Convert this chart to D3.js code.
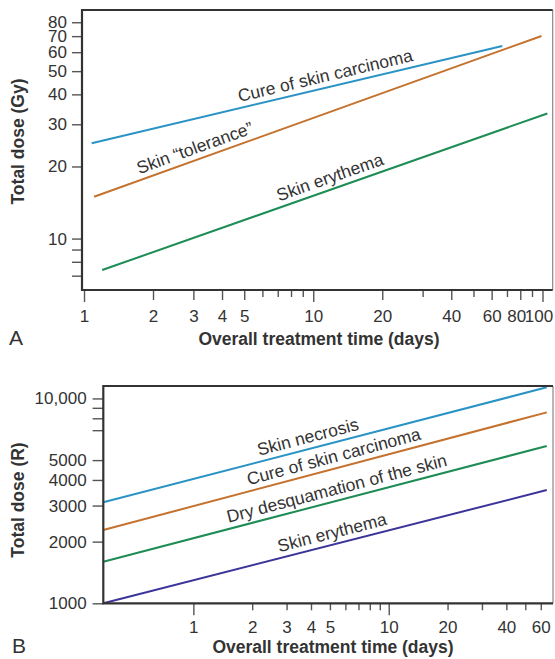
<!DOCTYPE html>
<html><head><meta charset="utf-8">
<script src="https://cdn.jsdelivr.net/npm/d3@7"></script>
<style>
html,body{margin:0;padding:0;background:#fff;}
svg{display:block;}
text{font-family:"Liberation Sans", Arial, Helvetica, sans-serif; fill:#333;}
</style></head><body>
<svg id="chart" width="555" height="659"></svg>
<script>
// ---------- Panel A data ----------
const aXTickLabels = [1, 2, 3, 4, 5, 10, 20, 40, 60, 80, 100];
const aXMinorTicks = [6, 7, 8, 9, 30, 50, 70, 90];
const aYTickLabels = [10, 20, 30, 40, 50, 60, 70, 80];
const aYMinorTicks = [7, 8, 9];
const aSeriesNames = ["Cure of skin carcinoma", "Skin \u201Ctolerance\u201D", "Skin erythema"];
const aSeriesDays  = [[1.08, 66.8], [1.106, 99], [1.2, 105]];
const aSeriesDose  = [[25, 63.7], [14.95, 70.1], [7.39, 33.3]];
const aLabelDays   = [11.6, 3.17, 12.3];

// ---------- Panel B data ----------
const bXTickLabels = [1, 2, 3, 4, 5, 10, 20, 40, 60];
const bXMinorTicks = [6, 7, 8, 9, 30, 50];
const bYTickLabels = [1000, 2000, 3000, 4000, 5000, 10000];
const bYMinorTicks = [7000, 8000, 9000];
const bSeriesNames = ["Skin necrosis", "Cure of skin carcinoma", "Dry desquamation of the skin", "Skin erythema"];
const bSeriesDays  = [[0.346, 64.4], [0.346, 64.4], [0.346, 64.4], [0.346, 64.4]];
const bSeriesDose  = [[3111, 11330], [2279, 8552], [1596, 5858], [1000, 3572]];
const bLabelDays   = [3.99, 5.42, 5.61, 5.31];

// ---------- styling ----------
const aColors = ["#2a93c5", "#c4722e", "#1e8c55"];
const bColors = ["#2a93c5", "#c4722e", "#1e8c55", "#3b3499"];
const svg = d3.select("#chart");

function drawPanel(p) {
  const g = svg.append("g");
  const x = p.x, y = p.y;
  const [x0, x1] = x.range();
  const [yb, yt] = y.range();

  // lines
  const line = d3.line().x(d => x(d[0])).y(d => y(d[1]));
  p.names.forEach((name, i) => {
    const pts = p.days[i].map((d, j) => [d, p.dose[i][j]]);
    g.append("path").datum(pts).attr("d", line)
      .attr("fill", "none").attr("stroke", p.colors[i]).attr("stroke-width", 2);
    // label along the line
    const ax = x(pts[0][0]), ay = y(pts[0][1]), bx = x(pts[1][0]), by = y(pts[1][1]);
    const lx = x(p.labelDays[i]);
    const t = (lx - ax) / (bx - ax);
    const ly = ay + t * (by - ay);
    const ang = Math.atan2(by - ay, bx - ax) * 180 / Math.PI;
    g.append("text").attr("transform", `translate(${lx},${ly}) rotate(${ang})`)
      .attr("text-anchor", "middle").attr("dy", -6)
      .style("font-size", "17.5px").text(name);
  });

  // x axis labelled ticks
  const xa = g.append("g").attr("transform", `translate(0,${yb})`)
    .call(d3.axisBottom(x).tickValues(p.xLabels).tickFormat(d => d).tickSize(p.xLabLen));
  xa.selectAll(".tick line").attr("y2", d => ([1, 10, 100].includes(d) ? 12 : p.xLabLen));
  xa.selectAll(".tick text").attr("y", p.xTextY).attr("dx", d => (p.xNudge[d] || 0));
  const xm = g.append("g").attr("transform", `translate(0,${yb})`)
    .call(d3.axisBottom(x).tickValues(p.xMinor).tickFormat("").tickSize(7));

  // y axis
  const ya = g.append("g").attr("transform", `translate(${x0},0)`)
    .call(d3.axisLeft(y).tickValues(p.yLabels).tickFormat(p.yFmt).tickSize(p.yLen).tickPadding(p.yPad));
  const ym = g.append("g").attr("transform", `translate(${x0},0)`)
    .call(d3.axisLeft(y).tickValues(p.yMinor).tickFormat("").tickSize(p.yLen));

  [xa, xm, ya, ym].forEach(a => {
    a.select(".domain").remove();
    a.selectAll(".tick line").attr("stroke", "#555").attr("stroke-width", 1.4);
    a.selectAll(".tick text").style("font-size", "17px").attr("fill", "#333")
      .style("font-family", "'Liberation Sans', Arial, Helvetica, sans-serif");
  });

  // box
  g.append("line").attr("x1", x1).attr("x2", x1).attr("y1", yt).attr("y2", yb)
    .attr("stroke", "#888").attr("stroke-width", 1.2);
  g.append("path").attr("d", `M${x1},${yt}H${x0}V${yb}H${x1}`)
    .attr("fill", "none").attr("stroke", "#333").attr("stroke-width", 2.2);

  // titles
  g.append("text").attr("x", p.xTitleX).attr("y", p.xTitleY).attr("text-anchor", "middle")
    .style("font-size", "17.5px").style("font-weight", "bold").text("Overall treatment time (days)");
  g.append("text").attr("transform", `translate(24,${p.yTitleY}) rotate(-90)`).attr("text-anchor", "middle")
    .style("font-size", "17.5px").style("font-weight", "bold").text(p.yTitle);
  g.append("text").attr("x", p.letterX).attr("y", p.xTitleY).style("font-size", "21px").text(p.letter);
}

drawPanel({
  x: d3.scaleLog().domain([0.98, 110.8]).range([82, 552.7]),
  y: d3.scaleLog().domain([6.1, 90]).range([290, 10]),
  names: aSeriesNames, days: aSeriesDays, dose: aSeriesDose, labelDays: aLabelDays, colors: aColors,
  xLabels: aXTickLabels, xMinor: aXMinorTicks, xLabLen: 10, xTextY: 20, xNudge: {80: -4, 100: -4},
  yLabels: aYTickLabels, yMinor: aYMinorTicks, yLen: 10, yPad: 5, yFmt: d => d,
  xTitleX: 319, xTitleY: 345, yTitleY: 141.5, yTitle: "Total dose (Gy)", letter: "A", letterX: 9
});

drawPanel({
  x: d3.scaleLog().domain([0.346, 69.3]).range([103.3, 553]),
  y: d3.scaleLog().domain([1000, 11500]).range([603.3, 386]),
  names: bSeriesNames, days: bSeriesDays, dose: bSeriesDose, labelDays: bLabelDays, colors: bColors,
  xLabels: bXTickLabels, xMinor: bXMinorTicks, xLabLen: 7, xTextY: 18, xNudge: {},
  yLabels: bYTickLabels, yMinor: bYMinorTicks, yLen: 10.7, yPad: 6, yFmt: d => (d >= 10000 ? d3.format(",")(d) : d),
  xTitleX: 333, xTitleY: 653, yTitleY: 500, yTitle: "Total dose (R)", letter: "B", letterX: 12
});
</script>
</body></html>
